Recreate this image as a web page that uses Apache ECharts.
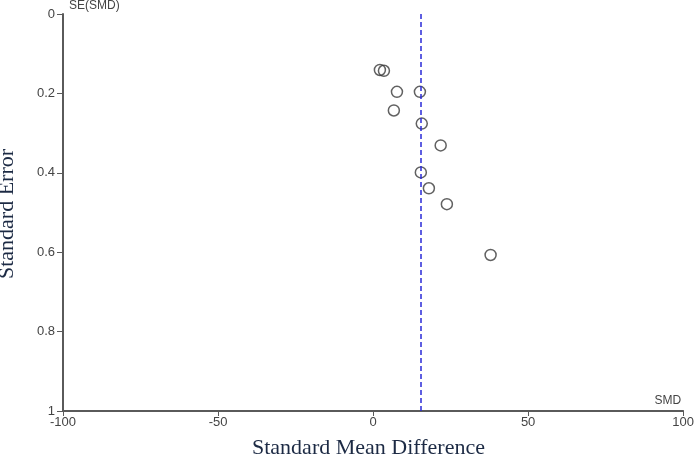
<!DOCTYPE html>
<html>
<head>
<meta charset="utf-8">
<script src="https://cdn.jsdelivr.net/npm/echarts@6/dist/echarts.min.js"></script>
<style>
  html, body { margin: 0; padding: 0; background: #fff; }
  #main { width: 697px; height: 459px; }
</style>
</head>
<body>
<div id="main"></div>
<script>
// study effect sizes (SMD) and their standard errors
const smd = [2.2, 3.5, 7.7, 15.1, 6.7, 15.7, 21.8, 15.4, 18.0, 23.8, 37.9];
const se = [0.141, 0.143, 0.196, 0.196, 0.243, 0.276, 0.331, 0.399, 0.439, 0.479, 0.607];
const pooledSmd = 15.3;
const xTicks = [-100, 100, 50];   // min, max, step
const yTicks = [0, 1, 0.2];

const points = smd.map((v, i) => [v, se[i]]);

const axisColor = '#5a5a5a';
const labelFont = { color: '#444', fontSize: 13, fontFamily: 'Liberation Sans' };
const titleColor = '#1c2a44';

let myChart = echarts.init(document.getElementById('main'));
let option = {
  backgroundColor: '#fff',
  animation: false,
  grid: {
    left: 63,
    right: 11,
    top: 13,
    bottom: 48
  },
  xAxis: {
    type: 'value',
    min: xTicks[0],
    max: xTicks[1],
    interval: xTicks[2],
    name: 'SMD',
    nameLocation: 'end',
    nameGap: 0,
    nameTextStyle: {
      ...labelFont,
      fontSize: 12,
      align: 'right',
      verticalAlign: 'bottom',
      padding: [0, 2, 4, 0]
    },
    axisLine: { onZero: false, lineStyle: { color: axisColor, width: 2 } },
    axisTick: { length: 5, inside: false, lineStyle: { color: axisColor } },
    axisLabel: { ...labelFont, margin: 5 },
    splitLine: { show: false }
  },
  yAxis: {
    type: 'value',
    inverse: true,
    min: yTicks[0],
    max: yTicks[1],
    interval: yTicks[2],
    name: 'SE(SMD)',
    nameLocation: 'start',
    nameGap: 2,
    nameTextStyle: {
      ...labelFont,
      fontSize: 12,
      align: 'left',
      verticalAlign: 'bottom',
      padding: [0, 0, 0, 6]
    },
    axisLine: { show: true, onZero: false, lineStyle: { color: axisColor, width: 2 } },
    axisTick: { show: true, length: 6, lineStyle: { color: axisColor } },
    axisLabel: { ...labelFont, margin: 8 },
    splitLine: { show: false }
  },
  graphic: [
    {
      type: 'text',
      left: 372 - 120,
      top: 437,
      style: {
        text: 'Standard Mean Difference',
        width: 240,
        align: 'center',
        font: '22px "Liberation Serif"',
        fill: titleColor
      }
    },
    {
      type: 'text',
      x: 18,
      y: 214,
      rotation: Math.PI / 2,
      style: {
        text: 'Standard Error',
        x: 0,
        y: 0,
        align: 'center',
        verticalAlign: 'bottom',
        font: '22px "Liberation Serif"',
        fill: titleColor
      }
    }
  ],
  series: [
    {
      type: 'scatter',
      data: points,
      symbol: 'circle',
      symbolSize: 11,
      itemStyle: {
        color: 'rgba(255,255,255,0)',
        borderColor: '#3a3a3a',
        borderWidth: 1.5
      },
      markLine: {
        silent: true,
        symbol: 'none',
        label: { show: false },
        lineStyle: { color: '#2a2ad8', width: 1.5, type: [5, 3] },
        data: [{ xAxis: pooledSmd }]
      }
    }
  ]
};
myChart.setOption(option);
</script>
</body>
</html>
